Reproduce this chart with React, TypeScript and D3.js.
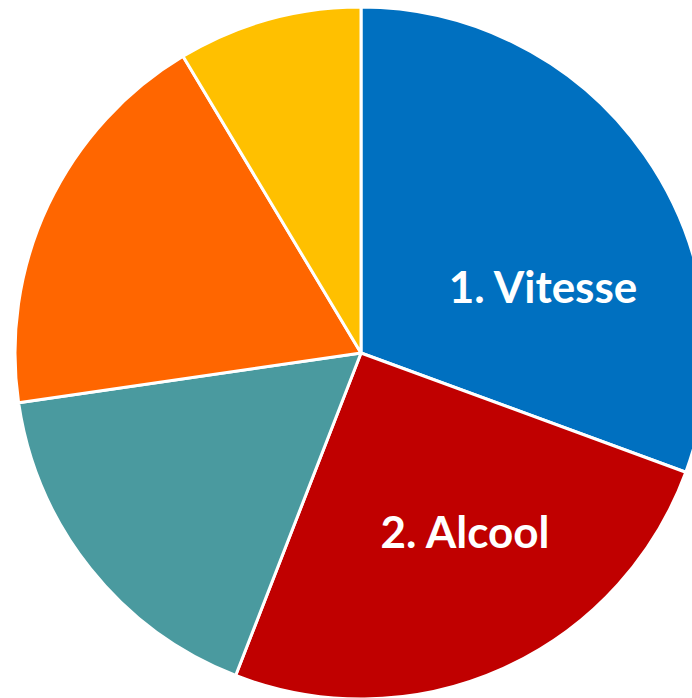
import { useEffect, useRef } from "react";
import * as d3 from "d3";

// slices clockwise from 12 o'clock
const categories = ["1. Vitesse", "2. Alcool", "Autre 3", "Autre 4", "Autre 5"];
const values = [30.6, 25.3, 16.8, 18.7, 8.6];
const colors = ["#0070C0", "#C00000", "#4A9A9F", "#FF6600", "#FFC000"];
const labels = ["1. Vitesse", "2. Alcool", "", "", ""];

export default function App() {
  const ref = useRef<SVGSVGElement>(null);

  useEffect(() => {
    const width = 692;
    const height = 698;
    const cx = 361;
    const cy = 353;
    const radius = 346;
    // label baseline positions, relative to the pie centre
    const labelPos: Record<string, [number, number]> = {
      "1. Vitesse": [182, -50],
      "2. Alcool": [104, 195],
    };

    const svg = d3.select(ref.current);
    svg.selectAll("*").remove();

    const data = categories.map((c, i) => ({ category: c, value: values[i], color: colors[i], label: labels[i] }));

    const pie = d3.pie<any>().value(d => d.value).sort(null);
    const arcs = pie(data);
    const arc = d3.arc<any>().innerRadius(0).outerRadius(radius);

    const g = svg.append("g").attr("transform", `translate(${cx}, ${cy})`);

    g.selectAll("path")
      .data(arcs)
      .enter()
      .append("path")
      .attr("d", arc)
      .attr("fill", d => d.data.color)
      .attr("stroke", "white")
      .style("stroke-width", "3px")
      .style("stroke-linejoin", "round");

    g.selectAll("text")
      .data(arcs.filter(d => d.data.label))
      .enter()
      .append("text")
      .attr("x", d => labelPos[d.data.label][0])
      .attr("y", d => labelPos[d.data.label][1])
      .attr("text-anchor", "middle")
      .attr("fill", "white")
      .attr("font-family", "Lato, 'Open Sans', sans-serif")
      .attr("font-weight", "bold")
      .attr("font-size", 44)
      .text(d => d.data.label);

    svg.attr("width", width).attr("height", height);
  }, []);

  return (
    <svg
      ref={ref}
      width={692}
      height={698}
      style={{ position: "absolute", left: 0, top: 0, display: "block" }}
    />
  );
}
